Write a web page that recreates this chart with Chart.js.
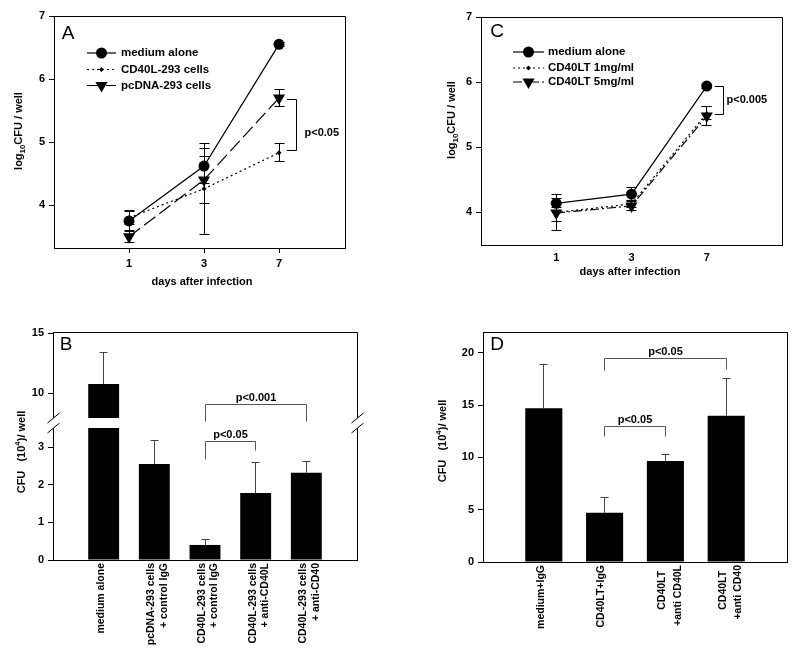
<!DOCTYPE html>
<html>
<head>
<meta charset="utf-8">
<title>CFU after infection</title>
<script src="https://cdn.jsdelivr.net/npm/chart.js@4.4.1/dist/chart.umd.min.js"></script>
<style>
    html, body { margin: 0; padding: 0; background: #fff; }
    #page { position: relative; width: 800px; height: 658px; overflow: hidden; }
    #page canvas { position: absolute; }
</style>
</head>
<body>
<div id="page">
    <canvas id="chartA" width="400" height="310" style="left:0;top:0"></canvas>
    <canvas id="chartC" width="400" height="310" style="left:400px;top:0"></canvas>
    <canvas id="chartB" width="400" height="348" style="left:0;top:310px"></canvas>
    <canvas id="chartD" width="400" height="348" style="left:400px;top:310px"></canvas>
</div>
<script>
// ---- data ----
var dayLabels = ['1', '3', '7'];
var dayIdx = [1, 2, 3];

// panel A (log10 CFU / well)
var aMedium = [3.75, 4.62, 6.55];
var aMediumErr = [0.17, 0.28, 0.03];
var aCd40l = [3.8, 4.26, 4.83];
var aCd40lErr = [0.1, 0.72, 0.14];
var aPcdna = [3.5, 4.4, 5.7];
var aPcdnaErr = [0.1, 0.37, 0.13];

// panel C (log10 CFU / well)
var cMedium = [4.14, 4.28, 5.94];
var cMediumErr = [0.07, 0.1, 0.03];
var cLow = [4.0, 4.13, 5.52];
var cLowErr = [0.27, 0.05, 0.1];
var cHigh = [3.99, 4.1, 5.48];
var cHighErr = [0.13, 0.07, 0.14];

// panel B (CFU x10^4 / well)
var bLabels = ['medium alone', ['pcDNA-293 cells', '+ control IgG'], ['CD40L-293 cells', '+ control IgG'],
    ['CD40L-293 cells', '+ anti-CD40L'], ['CD40L-293 cells', '+ anti-CD40']];
var bValues = [10.75, 2.55, 0.4, 1.78, 2.32];
var bErr = [2.65, 0.63, 0.15, 0.8, 0.3];

// panel D (CFU x10^4 / well)
var dLabels = ['medium+IgG', 'CD40LT+IgG', ['CD40LT  ', '+anti CD40L'], ['CD40LT  ', '+anti CD40']];
var dValues = [14.7, 4.7, 9.65, 14.0];
var dErr = [4.15, 1.5, 0.65, 3.6];

// ---- helpers ----
var FONT = '"Liberation Sans", Arial, Helvetica, sans-serif';
var TICK_FONT = { family: FONT, size: 11, weight: 'bold' };
Chart.defaults.font.family = FONT;
Chart.defaults.color = '#000';

var toPoints = function (values) {
    return values.map(function (v, i) { return { x: i + 1, y: v }; });
};

var fixedTicks = function (values) {
    return function (scale) {
        scale.ticks = values.map(function (v) { return { value: v }; });
    };
};

var fixedSize = function (prop, size) {
    return function (scale) { scale[prop] = size; };
};

var align = function (v) { return Math.round(v - 0.5) + 0.5; };

// clips bars to their own y axis (broken axis) and draws the error bars
var errorBarPlugin = {
    id: 'errorBars',
    beforeDatasetDraw: function (chart, args) {
        var ds = chart.data.datasets[args.index];
        var ctx = chart.ctx;
        ctx.save();
        if (ds.clipToAxis) {
            var ys = chart.scales[args.meta.yAxisID];
            ctx.beginPath();
            ctx.rect(chart.chartArea.left, ys.top, chart.chartArea.width, ys.bottom - ys.top);
            ctx.clip();
        }
    },
    afterDatasetDraw: function (chart, args) {
        var ds = chart.data.datasets[args.index];
        var ctx = chart.ctx;
        if (ds.errors) {
            var ys = chart.scales[args.meta.yAxisID];
            var cap = ds.errorCap || 5;
            ctx.strokeStyle = ds.errorColor || '#000';
            ctx.lineWidth = 1;
            ctx.setLineDash([]);
            args.meta.data.forEach(function (el, i) {
                var v = ds.data[i].y;
                var e = ds.errors[i];
                var x = align(el.x);
                var top = ys.getPixelForValue(v + e);
                var bot = ds.errorUpOnly ? ys.getPixelForValue(v) : ys.getPixelForValue(v - e);
                ctx.beginPath();
                ctx.moveTo(x, top);
                ctx.lineTo(x, bot);
                ctx.moveTo(x - cap, align(top));
                ctx.lineTo(x + cap, align(top));
                if (!ds.errorUpOnly) {
                    ctx.moveTo(x - cap, align(bot));
                    ctx.lineTo(x + cap, align(bot));
                }
                ctx.stroke();
            });
        }
        ctx.restore();
    }
};

var drawRich = function (ctx, parts, x, y, rotate, size) {
    ctx.save();
    ctx.translate(x, y);
    if (rotate) {
        ctx.rotate(-Math.PI / 2);
    }
    ctx.textBaseline = 'middle';
    ctx.textAlign = 'left';
    var fontFor = function (p) {
        return 'bold ' + (p.sub || p.sup ? size * 0.72 : size) + 'px ' + FONT;
    };
    var widths = parts.map(function (p) {
        ctx.font = fontFor(p);
        return ctx.measureText(p.t).width;
    });
    var total = widths.reduce(function (a, b) { return a + b; }, 0);
    var cx = -total / 2;
    parts.forEach(function (p, i) {
        ctx.font = fontFor(p);
        var dy = p.sub ? size * 0.35 : (p.sup ? -size * 0.4 : 0);
        ctx.fillText(p.t, cx, dy);
        cx += widths[i];
    });
    ctx.restore();
};

var decorPlugin = function (cfg) {
    return {
        id: 'decor',
        afterDraw: function (chart) {
            var ctx = chart.ctx;
            var area = chart.chartArea;
            var xs = chart.scales.x;
            ctx.save();
            ctx.fillStyle = '#000';
            ctx.strokeStyle = '#000';
            ctx.lineWidth = 1;

            // top and right side of the frame
            var L = align(area.left), R = align(area.right), T = align(area.top), B = align(area.bottom);
            ctx.beginPath();
            ctx.moveTo(L, T);
            ctx.lineTo(R, T);
            ctx.lineTo(R, B);
            ctx.stroke();

            // broken axis
            if (cfg.axisBreak) {
                var gy = chart.scales[cfg.axisBreak].top;
                ctx.fillStyle = '#fff';
                ctx.fillRect(area.left - 2, gy - 5, area.width + 4, 10);
                ctx.fillStyle = '#000';
                ctx.beginPath();
                [L, R].forEach(function (sx) {
                    [gy - 5, gy + 5].forEach(function (sy) {
                        ctx.moveTo(sx - 6, sy + 5);
                        ctx.lineTo(sx + 6, sy - 5);
                    });
                });
                ctx.stroke();
            }

            // panel letter
            ctx.font = '19px ' + FONT;
            ctx.textAlign = 'center';
            ctx.textBaseline = 'middle';
            ctx.fillText(cfg.letter.t, cfg.letter.x, cfg.letter.y);

            // axis titles
            drawRich(ctx, cfg.yTitle.parts, cfg.yTitle.x, cfg.yTitle.y, true, 11);
            if (cfg.xTitle) {
                drawRich(ctx, [{ t: cfg.xTitle.t }], cfg.xTitle.x, cfg.xTitle.y, false, 11);
            }

            // legend
            if (cfg.legend) {
                var lg = cfg.legend;
                ctx.font = 'bold 11.5px ' + FONT;
                ctx.textAlign = 'left';
                ctx.textBaseline = 'middle';
                lg.rows.forEach(function (ry, i) {
                    var ds = chart.data.datasets[i];
                    ctx.lineWidth = ds.borderWidth;
                    ctx.setLineDash(ds.borderDash || []);
                    ctx.beginPath();
                    ctx.moveTo(lg.x0, ry);
                    ctx.lineTo(lg.x1, ry);
                    ctx.stroke();
                    ctx.setLineDash([]);
                    Chart.helpers.drawPoint(ctx, {
                        pointStyle: ds.pointStyle,
                        rotation: ds.pointRotation,
                        radius: ds.pointRadius,
                        borderWidth: 0
                    }, (lg.x0 + lg.x1) / 2, ry);
                    ctx.fillText(ds.label, lg.tx, ry);
                });
            }

            // vertical significance brackets (line panels)
            (cfg.vBrackets || []).forEach(function (br) {
                var ys = chart.scales.y;
                var px = xs.getPixelForValue(br.at);
                var y1 = align(ys.getPixelForValue(br.top));
                var y2 = align(ys.getPixelForValue(br.bottom));
                var xv = align(px + 17);
                ctx.strokeStyle = '#000';
                ctx.lineWidth = 1;
                ctx.beginPath();
                ctx.moveTo(px + 8, y1);
                ctx.lineTo(xv, y1);
                ctx.lineTo(xv, y2);
                ctx.lineTo(px + 8, y2);
                ctx.stroke();
                ctx.font = 'bold 11px ' + FONT;
                ctx.textAlign = 'left';
                ctx.textBaseline = 'middle';
                ctx.fillText(br.text, xv + br.dx, ys.getPixelForValue(br.textAt));
            });

            // horizontal significance brackets (bar panels)
            (cfg.hBrackets || []).forEach(function (br) {
                var ys = chart.scales[br.axis];
                var xa = align(xs.getPixelForValue(br.a));
                var xb = align(xs.getPixelForValue(br.b));
                var yy = align(ys.getPixelForValue(br.value));
                ctx.strokeStyle = '#555';
                ctx.lineWidth = 1;
                ctx.beginPath();
                ctx.moveTo(xa, yy + br.dropA);
                ctx.lineTo(xa, yy);
                ctx.lineTo(xb, yy);
                ctx.lineTo(xb, yy + br.dropB);
                ctx.stroke();
                ctx.font = 'bold 11px ' + FONT;
                ctx.textAlign = 'center';
                ctx.textBaseline = 'alphabetic';
                ctx.fillText(br.text, (xa + xb) / 2, yy - 4);
            });

            ctx.restore();
        }
    };
};

var lineSet = function (label, values, errors, style, radius, dash) {
    return {
        label: label,
        data: toPoints(values),
        errors: errors,
        borderColor: '#000',
        backgroundColor: '#000',
        borderWidth: 1.2,
        borderDash: dash,
        pointStyle: style,
        pointRadius: radius,
        pointRotation: style === 'triangle' ? 180 : 0,
        pointBorderWidth: 0,
        tension: 0
    };
};

var barSet = function (values, errors, axis) {
    return {
        data: toPoints(values),
        yAxisID: axis,
        errors: errors,
        errorUpOnly: true,
        errorCap: 4,
        errorColor: '#444',
        clipToAxis: true,
        backgroundColor: '#000',
        borderWidth: 0,
        grouped: false,
        barPercentage: 0.61,
        categoryPercentage: 1
    };
};

var yAxis = function (min, max, ticks, width, extra) {
    var axis = {
        type: 'linear',
        position: 'left',
        min: min,
        max: max,
        afterBuildTicks: fixedTicks(ticks),
        afterFit: fixedSize('width', width),
        ticks: { font: TICK_FONT, padding: 4 },
        grid: { drawOnChartArea: false, tickLength: 5, color: '#000' },
        border: { color: '#000' }
    };
    return Object.assign(axis, extra || {});
};

var lineOptions = function (cfg) {
    return {
        responsive: false,
        animation: false,
        layout: { padding: cfg.padding },
        plugins: { legend: { display: false }, tooltip: { enabled: false } },
        scales: {
            x: {
                type: 'linear',
                min: 0,
                max: cfg.xMax,
                afterBuildTicks: fixedTicks(dayIdx),
                afterFit: fixedSize('height', cfg.xHeight),
                ticks: {
                    font: TICK_FONT,
                    padding: cfg.xPad,
                    maxRotation: 0,
                    callback: function (v) { return dayLabels[v - 1]; }
                },
                grid: { drawOnChartArea: false, drawTicks: cfg.xTicks, tickLength: 5, color: '#000' },
                border: { color: '#000' }
            },
            y: yAxis(cfg.yMin, cfg.yMax, [4, 5, 6, 7], cfg.yWidth)
        }
    };
};

var barOptions = function (cfg) {
    var scales = {
        x: {
            type: 'linear',
            min: 0,
            max: cfg.labels.length + 1,
            offset: false,
            afterBuildTicks: fixedTicks(cfg.labels.map(function (l, i) { return i + 1; })),
            afterFit: fixedSize('height', cfg.xHeight),
            ticks: {
                font: { family: FONT, size: 10.5, weight: 'bold', lineHeight: cfg.lineHeight },
                padding: 3,
                labelOffset: cfg.labelOffset,
                minRotation: 90,
                maxRotation: 90,
                autoSkip: false,
                callback: function (v) { return cfg.labels[v - 1]; }
            },
            grid: { display: false, drawTicks: false, tickLength: 0 },
            border: { color: '#000' }
        }
    };
    Object.assign(scales, cfg.yScales);
    return {
        responsive: false,
        animation: false,
        layout: { padding: cfg.padding },
        plugins: { legend: { display: false }, tooltip: { enabled: false } },
        scales: scales
    };
};

var logTitle = [{ t: 'log' }, { t: '10', sub: true }, { t: 'CFU / well' }];
var cfuTitle = [{ t: 'CFU   (10' }, { t: '4', sup: true }, { t: ')/ well' }];

// ---- panel A ----
new Chart(document.getElementById('chartA'), {
    type: 'line',
    data: {
        datasets: [
            lineSet('medium alone', aMedium, aMediumErr, 'circle', 5.5, []),
            lineSet('CD40L-293 cells', aCd40l, aCd40lErr, 'rectRot', 2.5, [2, 3]),
            lineSet('pcDNA-293 cells', aPcdna, aPcdnaErr, 'triangle', 7, [14, 5])
        ]
    },
    options: lineOptions({
        padding: { left: 0, right: 55, top: 16, bottom: 0 },
        xMax: 3.88, xHeight: 62, xPad: 4, xTicks: true,
        yMin: 3.32, yMax: 7, yWidth: 54
    }),
    plugins: [errorBarPlugin, decorPlugin({
        letter: { t: 'A', x: 68, y: 34 },
        yTitle: { parts: logTitle, x: 19, y: 131 },
        xTitle: { t: 'days after infection', x: 202, y: 282 },
        legend: { x0: 87, x1: 116, tx: 121, rows: [53, 69.5, 85.5] },
        vBrackets: [{ at: 3, top: 5.68, bottom: 4.87, text: 'p<0.05', textAt: 5.15, dx: 8 }]
    })]
});

// ---- panel C ----
new Chart(document.getElementById('chartC'), {
    type: 'line',
    data: {
        datasets: [
            lineSet('medium alone', cMedium, cMediumErr, 'circle', 5.5, []),
            lineSet('CD40LT 1mg/ml', cLow, cLowErr, 'rectRot', 2.5, [2, 3]),
            lineSet('CD40LT 5mg/ml', cHigh, cHighErr, 'triangle', 7, [9, 3, 2, 3])
        ]
    },
    options: lineOptions({
        padding: { left: 0, right: 18, top: 17, bottom: 0 },
        xMax: 4, xHeight: 65, xPad: 6, xTicks: false,
        yMin: 3.5, yMax: 7, yWidth: 81
    }),
    plugins: [errorBarPlugin, decorPlugin({
        letter: { t: 'C', x: 97, y: 32 },
        yTitle: { parts: logTitle, x: 52, y: 120 },
        xTitle: { t: 'days after infection', x: 230, y: 272 },
        legend: { x0: 113, x1: 144, tx: 148, rows: [52, 68, 82] },
        vBrackets: [{ at: 3, top: 5.94, bottom: 5.5, text: 'p<0.005', textAt: 5.72, dx: 3 }]
    })]
});

// ---- panel B (broken y axis) ----
new Chart(document.getElementById('chartB'), {
    type: 'bar',
    data: {
        datasets: [
            barSet(bValues, bErr, 'yLow'),
            barSet(bValues, bErr, 'yHigh')
        ]
    },
    options: barOptions({
        labels: bLabels,
        lineHeight: 1.2,
        labelOffset: -3,
        padding: { left: 0, right: 43, top: 22, bottom: 0 },
        xHeight: 98,
        yScales: {
            yLow: yAxis(0, 3.64, [0, 1, 2, 3], 53, { stack: 'b', stackWeight: 137 }),
            yHigh: yAxis(7.5, 15.1, [10, 15], 53, { stack: 'b', stackWeight: 91 })
        }
    }),
    plugins: [errorBarPlugin, decorPlugin({
        letter: { t: 'B', x: 66, y: 35 },
        yTitle: { parts: cfuTitle, x: 22, y: 142 },
        axisBreak: 'yLow',
        hBrackets: [
            { a: 3, b: 5, value: 9.08, axis: 'yHigh', dropA: 17, dropB: 17, text: 'p<0.001' },
            { a: 3, b: 4, value: 3.16, axis: 'yLow', dropA: 18, dropB: 9, text: 'p<0.05' }
        ]
    })]
});

// ---- panel D ----
new Chart(document.getElementById('chartD'), {
    type: 'bar',
    data: {
        datasets: [barSet(dValues, dErr, 'y')]
    },
    options: barOptions({
        labels: dLabels,
        lineHeight: 1.45,
        labelOffset: -3,
        padding: { left: 0, right: 13, top: 22, bottom: 0 },
        xHeight: 96,
        yScales: {
            y: yAxis(0, 22, [0, 5, 10, 15, 20], 83)
        }
    }),
    plugins: [errorBarPlugin, decorPlugin({
        letter: { t: 'D', x: 97, y: 35 },
        yTitle: { parts: cfuTitle, x: 43, y: 131 },
        hBrackets: [
            { a: 2, b: 4, value: 19.43, axis: 'y', dropA: 12, dropB: 11, text: 'p<0.05' },
            { a: 2, b: 3, value: 12.92, axis: 'y', dropA: 10, dropB: 10, text: 'p<0.05' }
        ]
    })]
});
</script>
</body>
</html>
